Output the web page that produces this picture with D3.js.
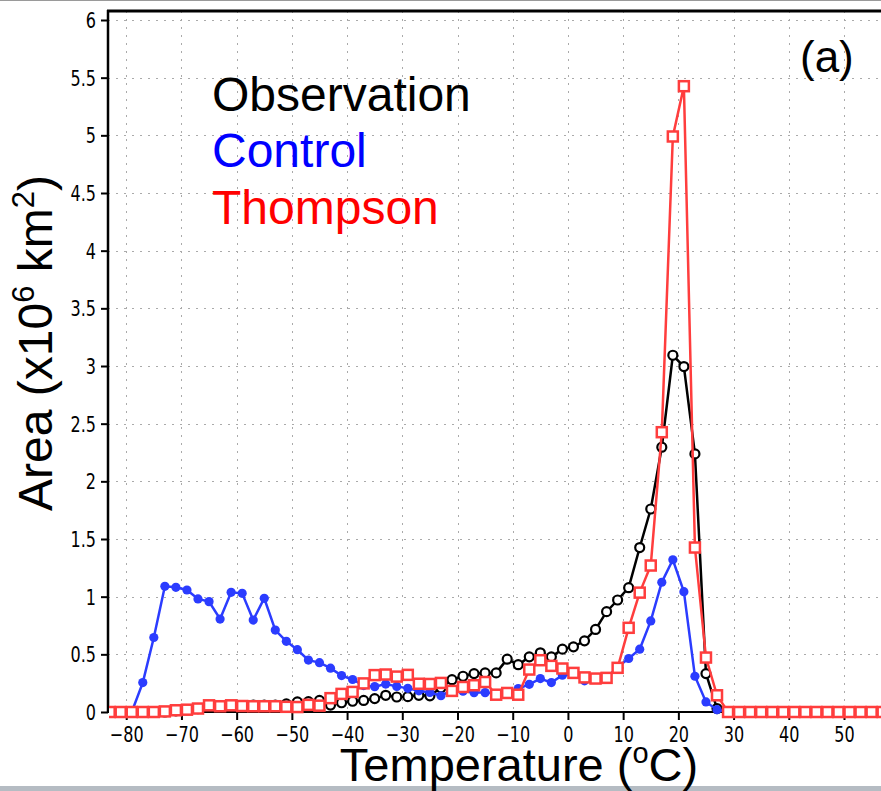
<!DOCTYPE html>
<html>
<head>
<meta charset="utf-8">
<script src="https://cdn.jsdelivr.net/npm/d3@7/dist/d3.min.js"></script>
<style>
  html, body { margin: 0; padding: 0; background: #fff; }
  svg { display: block; }
</style>
</head>
<body>
<svg id="chart" width="881" height="791"></svg>
<script>
// ---------------- DATA ----------------
const temperatures = [-83,-81,-79,-77,-75,-73,-71,-69,-67,-65,-63,-61,-59,-57,-55,-53,-51,-49,-47,-45,-43,-41,-39,-37,-35,-33,-31,-29,-27,-25,-23,-21,-19,-17,-15,-13,-11,-9,-7,-5,-3,-1,1,3,5,7,9,11,13,15,17,19,21,23,25,27,29,31,33,35,37,39,41,43,45,47,49,51,53,55,57];

const observation = [0,0,0,0,0,0,0.01,0.02,0.03,0.04,0.04,0.05,0.05,0.06,0.06,0.06,0.07,0.087,0.09,0.1,0.06,0.08,0.093,0.1,0.116,0.145,0.13,0.133,0.145,0.14,0.21,0.28,0.31,0.333,0.339,0.339,0.458,0.41,0.478,0.513,0.478,0.545,0.565,0.617,0.716,0.87,0.971,1.078,1.426,1.76,2.296,3.093,2.995,2.238,0.333,0.03,0,0,0,0,0,0,0,0,0,0,0,0,0,0,0];

const control = [0,0,0,0.255,0.646,1.09,1.081,1.058,0.98,0.957,0.806,1.038,1.029,0.797,0.986,0.71,0.613,0.54,0.45,0.428,0.38,0.316,0.282,0.229,0.22,0.242,0.222,0.205,0.184,0.169,0.141,0.188,0.18,0.168,0.168,0.16,0.165,0.203,0.24,0.29,0.255,0.319,0.325,0.27,0.296,0.296,0.39,0.464,0.545,0.79,1.125,1.32,1.043,0.31,0.087,0.02,0,0,0,0,0,0,0,0,0,0,0,0,0,0,0];

const thompson = [0,0,0,0,0,0.005,0.015,0.02,0.03,0.058,0.05,0.058,0.052,0.05,0.05,0.05,0.045,0.043,0.062,0.055,0.12,0.157,0.174,0.248,0.32,0.325,0.307,0.322,0.245,0.243,0.252,0.183,0.217,0.232,0.26,0.15,0.165,0.15,0.368,0.449,0.4,0.377,0.339,0.3,0.29,0.296,0.383,0.73,1.035,1.27,2.426,4.99,5.426,1.426,0.472,0.145,0,0,0,0,0,0,0,0,0,0,0,0,0,0,0];

const xTicks = [-80,-70,-60,-50,-40,-30,-20,-10,0,10,20,30,40,50];
const yTicks = [0,0.5,1,1.5,2,2.5,3,3.5,4,4.5,5,5.5,6];
const yTickLabels = ["0","0.5","1","1.5","2","2.5","3","3.5","4","4.5","5","5.5","6"];
const legendNames = ["Observation","Control","Thompson"];

// ---------------- LAYOUT ----------------
const svg = d3.select("#chart");
const W = 881, H = 791;
const plotLeft = 108, plotTop = 11, plotBottom = 712;

const x = d3.scaleLinear().domain([-83.3, 56.7]).range([plotLeft, W]);
const y = d3.scaleLinear().domain([0, 6]).range([plotBottom, 20]);

const tickFont = "'DejaVu Sans Condensed','DejaVu Sans',sans-serif";
const mainFont = "'Liberation Sans',Arial,Helvetica,sans-serif";

// screenshot frame artifacts
svg.append("rect").attr("x", 0).attr("y", 0).attr("width", W).attr("height", 1).attr("fill", "#9a9a9a");
svg.append("rect").attr("x", 0).attr("y", 786).attr("width", W).attr("height", 5).attr("fill", "#b5bcc3");

// grid
const grid = svg.append("g").attr("stroke", "#aaa").attr("stroke-width", 1).attr("stroke-dasharray", "2,6");
grid.selectAll("line.h").data(yTicks.slice(1)).join("line").attr("class", "h")
  .attr("x1", plotLeft).attr("x2", W)
  .attr("y1", d => Math.round(y(d)) + 0.5).attr("y2", d => Math.round(y(d)) + 0.5);
grid.selectAll("line.v").data(xTicks).join("line").attr("class", "v")
  .attr("y1", plotTop).attr("y2", plotBottom)
  .attr("x1", d => Math.round(x(d)) + 0.5).attr("x2", d => Math.round(x(d)) + 0.5);

// axes
const yAxis = d3.axisLeft(y).tickValues(yTicks).tickFormat((d, i) => yTickLabels[i]).tickSize(7).tickPadding(5);
const gy = svg.append("g").attr("transform", `translate(${plotLeft},0)`).call(yAxis);
gy.select(".domain").remove();
gy.selectAll(".tick line").attr("stroke", "#000").attr("stroke-width", 2);
gy.selectAll(".tick text").attr("font-family", tickFont).attr("font-stretch", "condensed")
  .attr("font-size", 21).attr("fill", "#000").attr("dy", "0.36em")
  .attr("transform", "scale(0.85,1)").attr("x", -12 / 0.85);

const xAxis = d3.axisBottom(x).tickValues(xTicks).tickFormat(d => d < 0 ? "\u2212" + Math.abs(d) : String(d)).tickSize(8).tickPadding(7);
const gx = svg.append("g").attr("transform", `translate(0,${plotBottom})`).call(xAxis);
gx.select(".domain").remove();
gx.selectAll(".tick line").attr("stroke", "#000").attr("stroke-width", 2);
gx.selectAll(".tick text").attr("font-family", tickFont).attr("font-stretch", "condensed")
  .attr("font-size", 21).attr("fill", "#000").attr("transform", "scale(0.85,1)");

// frame lines
svg.append("line").attr("x1", plotLeft).attr("x2", plotLeft).attr("y1", plotTop - 1).attr("y2", plotBottom + 1)
  .attr("stroke", "#000").attr("stroke-width", 2.5);
svg.append("line").attr("x1", plotLeft - 1).attr("x2", W).attr("y1", plotTop).attr("y2", plotTop)
  .attr("stroke", "#000").attr("stroke-width", 3);
svg.append("line").attr("x1", plotLeft).attr("x2", W).attr("y1", plotBottom).attr("y2", plotBottom)
  .attr("stroke", "#000").attr("stroke-width", 2);

// clip
svg.append("clipPath").attr("id", "plotclip").append("rect")
  .attr("x", plotLeft + 1).attr("y", 0).attr("width", W - plotLeft).attr("height", plotBottom + 10);

const plot = svg.append("g").attr("clip-path", "url(#plotclip)");

function makeData(vals) { return temperatures.map((t, i) => ({ t, v: vals[i] })); }
const line = d3.line().x(d => x(d.t)).y(d => y(d.v));

// Observation (black open circles)
const obs = makeData(observation);
plot.append("path").datum(obs).attr("d", line).attr("fill", "none").attr("stroke", "#000").attr("stroke-width", 2.5);
plot.selectAll("circle.obs").data(obs).join("circle").attr("class", "obs")
  .attr("cx", d => x(d.t)).attr("cy", d => y(d.v)).attr("r", 4.5)
  .attr("fill", "#fff").attr("stroke", "#000").attr("stroke-width", 2.2);

// Control (blue filled circles)
const ctl = makeData(control);
plot.append("path").datum(ctl).attr("d", line).attr("fill", "none").attr("stroke", "#2b3cff").attr("stroke-width", 2.5);
plot.selectAll("circle.ctl").data(ctl).join("circle").attr("class", "ctl")
  .attr("cx", d => x(d.t)).attr("cy", d => y(d.v)).attr("r", 4.6)
  .attr("fill", "#2b3cff");

// Thompson (red open squares)
const thp = makeData(thompson);
plot.append("path").datum(thp).attr("d", line).attr("fill", "none").attr("stroke", "#ff3d3d").attr("stroke-width", 2.5);
plot.selectAll("rect.thp").data(thp).join("rect").attr("class", "thp")
  .attr("x", d => x(d.t) - 5).attr("y", d => y(d.v) - 5).attr("width", 10).attr("height", 10)
  .attr("fill", "#fff").attr("stroke", "#ff3d3d").attr("stroke-width", 2.5);

// legend
const legendColors = ["#000000", "#0000ff", "#ff0000"];
const legendY = [111, 167, 224];
svg.selectAll("text.legend").data(legendNames).join("text").attr("class", "legend")
  .attr("x", 212).attr("y", (d, i) => legendY[i])
  .attr("font-family", mainFont).attr("font-size", 48).attr("fill", (d, i) => legendColors[i])
  .text(d => d);

// panel label
svg.append("text").attr("x", 800).attr("y", 72).attr("font-family", mainFont).attr("font-size", 44).text("(a)");

// y title
const yt = svg.append("text").attr("transform", "translate(52,343) rotate(-90)")
  .attr("text-anchor", "middle").attr("font-family", mainFont).attr("font-size", 48).attr("fill", "#000");
yt.append("tspan").text("Area (x10");
yt.append("tspan").attr("font-size", 31).attr("dy", -18).text("6");
yt.append("tspan").attr("dy", 18).text(" km");
yt.append("tspan").attr("font-size", 31).attr("dy", -18).text("2");
yt.append("tspan").attr("dy", 18).text(")");

// x title
const xt = svg.append("text").attr("x", 519).attr("y", 781)
  .attr("text-anchor", "middle").attr("font-family", mainFont).attr("font-size", 47).attr("fill", "#000");
xt.append("tspan").text("Temperature (");
xt.append("tspan").attr("font-size", 29).attr("dy", -18).text("o");
xt.append("tspan").attr("dy", 18).text("C)");
</script>
</body>
</html>
